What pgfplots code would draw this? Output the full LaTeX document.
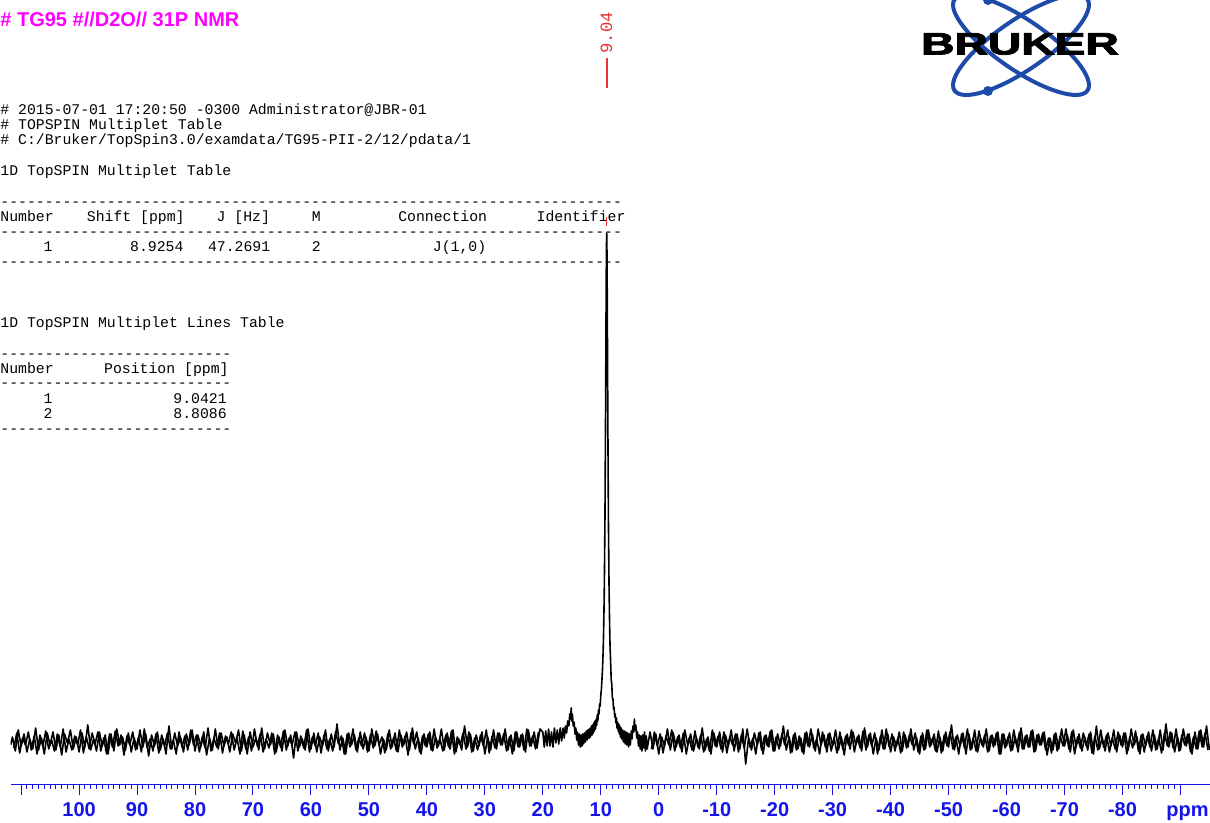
\documentclass[border=0pt]{standalone}
\usepackage{fontspec}
\setmainfont{Liberation Sans}
\newfontfamily\tabfont{Liberation Mono}
\newfontfamily\logofont{Liberation Sans}[BoldFeatures={FakeBold=2.5}]
\usepackage{pgfplots}
\pgfplotsset{compat=1.18}
\definecolor{bblue}{RGB}{30,75,170}
\definecolor{tickblue}{RGB}{20,20,235}
\definecolor{mag}{RGB}{255,0,255}
\definecolor{pkred}{RGB}{235,50,50}
\newcommand\tf{\tabfont\fontsize{7.4}{9}\selectfont}
\newcommand\cell[3]{\node[anchor=base west,inner sep=0pt,font=\tf] at ({#1*8.65},#2) {#3};}
\newcommand\dashline[2]{\node[anchor=base west,inner sep=0pt,font=\tf] at (0,#2) {\foreach\i in {1,...,#1}{-\kern0pt}};}
\begin{document}
\begin{tikzpicture}[x=0.5pt,y=0.5pt]
\path[use as bounding box] (0,0) rectangle (1210,823);
% logo
\begin{scope}[bblue, line width=2pt]
\draw[rotate around={34.4:(1021,778)}] (1021,778) ellipse [x radius=80.6, y radius=25];
\draw[rotate around={-34.4:(1021,778)}] (1021,778) ellipse [x radius=80.6, y radius=25];
\fill (988,732) circle (5);
\fill (988,823) circle (5);
\end{scope}
\node[inner sep=0pt, xscale=1.5, font=\logofont\bfseries\fontsize{15.4}{16}\selectfont] at (1020,779) {BRUKER};
% title
\node[anchor=base west, inner sep=0pt, text=mag, font=\bfseries\fontsize{10}{12}\selectfont] at (0,796) {\# TG95 \#//D2O// 31P NMR};
% header text
\cell{0}{708}{\# 2015-07-01 17:20:50 -0300 Administrator@JBR-01}
\cell{0}{693}{\# TOPSPIN Multiplet Table}
\cell{0}{678}{\# C:/Bruker/TopSpin3.0/examdata/TG95-PII-2/12/pdata/1}
\cell{0}{647}{1D TopSPIN Multiplet Table}
\dashline{70}{616}
\cell{0}{601}{Number}
\cell{10}{601}{Shift [ppm]}
\cell{25}{601}{J [Hz]}
\cell{36}{601}{M}
\cell{46}{601}{Connection}
\cell{62}{601}{Identifier}
\dashline{70}{586}
\cell{5}{571}{1}
\cell{15}{571}{8.9254}
\cell{24}{571}{47.2691}
\cell{36}{571}{2}
\cell{50}{571}{J(1,0)}
\dashline{70}{556}
\cell{0}{495}{1D TopSPIN Multiplet Lines Table}
\dashline{26}{464.5}
\cell{0}{449}{Number}
\cell{12}{449}{Position [ppm]}
\dashline{26}{435}
\cell{5}{419}{1}
\cell{20}{419}{9.0421}
\cell{5}{404}{2}
\cell{20}{404}{8.8086}
\dashline{26}{389.5}
% peak label
\node[rotate=90, text=pkred, inner sep=0pt, font=\tabfont\fontsize{8.6}{10}\selectfont] at (606.5,790) {9.04};
\draw[pkred, line width=0.6pt] (607,765) -- (607,735);
\draw[pkred, line width=0.6pt] (606.5,606) -- (606.5,597);
\begin{axis}[at={(5.35pt,19pt)}, anchor=south west, scale only axis,
  width=599.65pt, height=392.5pt,
  xmin=-95.1, xmax=111.8, x dir=reverse, ymin=-43, ymax=742,
  axis x line*=bottom, axis y line=none,
  x axis line style={tickblue, line width=0.5pt},
  xtick={110,100,...,-90},
  xticklabels={,100,90,80,70,60,50,40,30,20,10,0,-10,-20,-30,-40,-50,-60,-70,-80,},
  minor x tick num=9,
  xtick align=outside,
  major tick length=5pt, minor tick length=1.8pt,
  every tick/.style={tickblue, line width=0.5pt},
  xticklabel style={font=\bfseries\fontsize{10}{12}\selectfont, text=tickblue, anchor=base, yshift=-11pt},
]
\addplot[black, line width=0.8pt, line join=round] coordinates {
(111.8,-3)
(111.5,5) (111,-9) (110.5,12) (110,-4) (109.5,8) (109,-10) (108.5,3) (108,-7) (107.5,14) (107,-8)
(106.5,4) (106,-12) (105.5,9) (105,-3) (104.5,10) (104,-8) (103.5,7) (103,-13) (102.5,8) (102,-1)
(101.5,12) (101,-7) (100.5,5) (100,-10) (99.5,9) (99,-5) (98.5,17) (98,-8) (97.5,3) (97,-9)
(96.5,10) (96,-4) (95.5,7) (95,-12) (94.5,8) (94,-9) (93.5,13) (93,-3) (92.5,5) (92,-8)
(91.5,9) (91,-10) (90.5,4) (90,-7) (89.5,12) (89,-5) (88.5,8) (88,-14) (87.5,7) (87,-4)
(86.5,10) (86,-8) (85.5,3) (85,-12) (84.5,16) (84,-7) (83.5,9) (83,-4) (82.5,5) (82,-10)
(81.5,8) (81,-3) (80.5,12) (80,-9) (79.5,7) (79,-5) (78.5,10) (78,-13) (77.5,4) (77,-8)
(76.5,13) (76,-7) (75.5,9) (75,-4) (74.5,5) (74,-10) (73.5,8) (73,-1) (72.5,12) (72,-9)
(71.5,7) (71,-12) (70.5,10) (70,-5) (69.5,4) (69,-8) (68.5,14) (68,-7) (67.5,9) (67,-3)
(66.5,8) (66,-10) (65.5,5) (65,-9) (64.5,12) (64,-4) (63.5,7) (63,-16) (62.5,10) (62,-5)
(61.5,3) (61,-8) (60.5,13) (60,-7) (59.5,9) (59,-10) (58.5,5) (58,-4) (57.5,12) (57,-9)
(56.5,8) (56,-5) (55.5,18) (55,-8) (54.5,4) (54,-12) (53.5,9) (53,-3) (52.5,7) (52,-10)
(51.5,10) (51,-7) (50.5,5) (50,-9) (49.5,13) (49,-4) (48.5,8) (48,-12) (47.5,3) (47,-8)
(46.5,12) (46,-5) (45.5,9) (45,-10) (44.5,7) (44,-3) (43.5,10) (43,-8) (42.5,14) (42,-7)
(41.5,4) (41,-12) (40.5,8) (40,-5) (39.5,10) (39,-9) (38.5,5) (38,-4) (37.5,13) (37,-8)
(36.5,9) (36,-7) (35.5,12) (35,-10) (34.5,3) (34,-8) (33.5,16) (33,-5) (32.5,8) (32,-9)
(31.5,7) (31,-4) (30.5,10) (30,-12) (29.5,5) (29,-8) (28.5,12) (28,-7) (27.5,9) (27,-3)
(26.5,13) (26,-8) (25.5,7) (25,-9) (24.5,10) (24,-5) (23.5,8) (23,-10) (22.5,12) (22,-4)
(21.5,10) (21,-6) (20.5,13)
(20.0,10) (19.75,-5) (19.5,11) (19.25,-4) (19.0,13) (18.75,-4) (18.5,10) (18.25,-5) (18.0,14) (17.75,-1)
(17.5,12) (17.25,-2) (17.0,14) (16.75,1) (16.5,14) (16.3,4) (16.1,16) (15.9,9) (15.7,21) (15.5,16)
(15.35,28) (15.2,23) (15.1,34) (15.0,21) (14.9,28) (14.75,16) (14.6,20) (14.45,8) (14.3,14) (14.15,2)
(14.0,10) (13.85,-3) (13.7,8) (13.55,-5) (13.4,7) (13.25,-4) (13.1,8) (12.95,-2) (12.8,9) (12.65,0)
(12.5,11) (12.35,2) (12.2,12) (12.1,4)
(12.0,13) (11.9,4) (11.8,14) (11.7,6) (11.6,16) (11.5,7) (11.4,17) (11.3,9) (11.2,19) (11.1,11)
(11.0,21) (10.9,13) (10.8,23) (10.7,17) (10.6,27) (10.5,21) (10.4,32) (10.3,28) (10.2,38) (10.1,36)
(10.0,47) (9.9,52) (9.8,62) (9.7,73) (9.6,89) (9.53,105) (9.45,130) (9.38,159) (9.28,222) (9.18,320)
(9.13,381) (9.08,442) (9.03,490) (8.98,509) (8.93,490) (8.88,442) (8.83,381) (8.78,320) (8.68,222) (8.58,159)
(8.48,119) (8.4,96) (8.3,80) (8.2,62) (8.1,58) (8.0,44) (7.9,43) (7.8,33) (7.7,35) (7.6,25)
(7.5,28) (7.4,19) (7.3,24) (7.2,14) (7.1,20) (7.0,11) (6.9,18) (6.8,8) (6.7,16) (6.6,5)
(6.5,14) (6.4,3) (6.25,12) (6.1,0) (5.95,11) (5.8,-2) (5.65,10) (5.5,-3) (5.35,9) (5.2,-5)
(5.05,8) (4.9,-3) (4.75,11) (4.6,3) (4.45,16) (4.3,10) (4.2,23) (4.1,12) (3.95,17) (3.8,4)
(3.65,10) (3.5,-4) (3.35,7) (3.2,-7) (3.05,6) (2.9,-9) (2.75,7) (2.6,-6) (2.45,10) (2.3,-9)
(2.15,6) (2.0,-7)
(1.5,10) (1,-7) (0.5,8) (0,-12) (-0.5,5) (-1,-4) (-1.5,13) (-2,-8) (-2.5,9) (-3,-5)
(-3.5,7) (-4,-10) (-4.5,12) (-5,-3) (-5.5,8) (-6,-9) (-6.5,4) (-7,-7) (-7.5,14) (-8,-8)
(-8.5,5) (-9,-12) (-9.5,9) (-10,-5) (-10.5,10) (-11,-10) (-11.5,7) (-12,-4) (-12.5,12) (-13,-9)
(-13.5,8) (-14,-7) (-14.5,13) (-15,-22) (-15.5,4) (-16,-8) (-16.5,9) (-17,-3) (-17.5,10) (-18,-12)
(-18.5,7) (-19,-5) (-19.5,12) (-20,-9) (-20.5,8) (-21,-4) (-21.5,16) (-22,-8) (-22.5,5) (-23,-10)
(-23.5,9) (-24,-7) (-24.5,4) (-25,-12) (-25.5,10) (-26,-5) (-26.5,8) (-27,-9) (-27.5,13) (-28,-3)
(-28.5,7) (-29,-10) (-29.5,9) (-30,-4) (-30.5,12) (-31,-8) (-31.5,5) (-32,-13) (-32.5,8) (-33,-7)
(-33.5,10) (-34,-3) (-34.5,7) (-35,-9) (-35.5,14) (-36,-5) (-36.5,9) (-37,-12) (-37.5,4) (-38,-8)
(-38.5,12) (-39,-7) (-39.5,8) (-40,-10) (-40.5,5) (-41,-4) (-41.5,10) (-42,-9) (-42.5,7) (-43,-5)
(-43.5,13) (-44,-8) (-44.5,4) (-45,-12) (-45.5,9) (-46,-7) (-46.5,12) (-47,-3) (-47.5,8) (-48,-10)
(-48.5,5) (-49,-9) (-49.5,10) (-50,-5) (-50.5,17) (-51,-8) (-51.5,7) (-52,-4) (-52.5,9) (-53,-12)
(-53.5,8) (-54,-7) (-54.5,12) (-55,-10) (-55.5,4) (-56,-5) (-56.5,13) (-57,-9) (-57.5,7) (-58,-3)
(-58.5,10) (-59,-12) (-59.5,8) (-60,-4) (-60.5,9) (-61,-8) (-61.5,5) (-62,-10) (-62.5,14) (-63,-7)
(-63.5,7) (-64,-5) (-64.5,12) (-65,-9) (-65.5,8) (-66,-3) (-66.5,10) (-67,-13) (-67.5,4) (-68,-8)
(-68.5,9) (-69,-7) (-69.5,13) (-70,-4) (-70.5,7) (-71,-10) (-71.5,12) (-72,-5) (-72.5,8) (-73,-9)
(-73.5,5) (-74,-8) (-74.5,10) (-75,-12) (-75.5,16) (-76,-7) (-76.5,4) (-77,-9) (-77.5,9) (-78,-4)
(-78.5,12) (-79,-10) (-79.5,7) (-80,-5) (-80.5,9) (-81,-8) (-81.5,13) (-82,-3) (-82.5,5) (-83,-12)
(-83.5,8) (-84,-4) (-84.5,10) (-85,-9) (-85.5,7) (-86,-7) (-86.5,12) (-87,-8) (-87.5,18) (-88,-5)
(-88.5,9) (-89,-10) (-89.5,5) (-90,-8) (-90.5,13) (-91,-4) (-91.5,8) (-92,-12) (-92.5,10) (-93,-7)
(-93.5,12) (-94,-5) (-94.5,16) (-95,-8)
};
\addplot[black, line width=0.8pt, line join=round] coordinates {
(111.25,-6) (110.75,9) (110.25,-11) (109.75,4) (109.25,-3) (108.75,10) (108.25,-8) (107.75,6) (107.25,-12) (106.75,7)
(106.25,-4) (105.75,11) (105.25,-7) (104.75,2) (104.25,-9) (103.75,8) (103.25,-5) (102.75,13) (102.25,-10) (101.75,3)
(101.25,-8) (100.75,6) (100.25,-3) (99.75,12) (99.25,-11) (98.75,5) (98.25,-7) (97.75,9) (97.25,-2) (96.75,10)
(96.25,-9) (95.75,4) (95.25,-12) (94.75,8) (94.25,-5) (93.75,11) (93.25,-4) (92.75,7) (92.25,-13) (91.75,6)
(91.25,-3) (90.75,10) (90.25,-8) (89.75,5) (89.25,-10) (88.75,13) (88.25,-6) (87.75,3) (87.25,-9) (86.75,8)
(86.25,-11) (85.75,7) (85.25,-4) (84.75,9) (84.25,-7) (83.75,2) (83.25,-12) (82.75,10) (82.25,-5) (81.75,6)
(81.25,-8) (80.75,12) (80.25,-3) (79.75,7) (79.25,-10) (78.75,5) (78.25,-6) (77.75,14) (77.25,-9) (76.75,4)
(76.25,-5) (75.75,9) (75.25,-11) (74.75,6) (74.25,-2) (73.75,10) (73.25,-8) (72.75,4) (72.25,-12) (71.75,11)
(71.25,-7) (70.75,5) (70.25,-9) (69.75,13) (69.25,-4) (68.75,8) (68.25,-10) (67.75,3) (67.25,-6) (66.75,9)
(66.25,-12) (65.75,7) (65.25,-5) (64.75,11) (64.25,-8) (63.75,4) (63.25,-3) (62.75,10) (62.25,-9) (61.75,6)
(61.25,-6) (60.75,12) (60.25,-10) (59.75,5) (59.25,-4) (58.75,9) (58.25,-11) (57.75,7) (57.25,-7) (56.75,3)
(56.25,-9) (55.75,10) (55.25,-2) (54.75,6) (54.25,-12) (53.75,8) (53.25,-5) (52.75,13) (52.25,-8) (51.75,4)
(51.25,-4) (50.75,9) (50.25,-10) (49.75,7) (49.25,-6) (48.75,11) (48.25,-3) (47.75,5) (47.25,-11) (46.75,8)
(46.25,-7) (45.75,4) (45.25,-9) (44.75,12) (44.25,-5) (43.75,6) (43.25,-13) (42.75,9) (42.25,-2) (41.75,10)
(41.25,-10) (40.75,6) (40.25,-4) (39.75,8) (39.25,-8) (38.75,13) (38.25,-6) (37.75,3) (37.25,-9) (36.75,7)
(36.25,-5) (35.75,11) (35.25,-12) (34.75,5) (34.25,-3) (33.75,9) (33.25,-7) (32.75,10) (32.25,-10) (31.75,4)
(31.25,-8) (30.75,7) (30.25,-4) (29.75,12) (29.25,-11) (28.75,6) (28.25,-6) (27.75,9) (27.25,-3) (26.75,8)
(26.25,-9) (25.75,5) (25.25,-12) (24.75,10) (24.25,-5) (23.75,7) (23.25,-8) (22.75,13) (22.25,-4) (21.75,6)
(21.25,-7) (20.75,10)
};
\addplot[black, line width=0.8pt, line join=round] coordinates {
(1.25,-7) (0.75,10) (0.25,-4) (-0.25,8) (-0.75,-11) (-1.25,6) (-1.75,-3) (-2.25,12) (-2.75,-9) (-3.25,5)
(-3.75,-6) (-4.25,9) (-4.75,-12) (-5.25,4) (-5.75,-8) (-6.25,11) (-6.75,-5) (-7.25,7) (-7.75,-10) (-8.25,3)
(-8.75,-9) (-9.25,12) (-9.75,-4) (-10.25,6) (-10.75,-7) (-11.25,10) (-11.75,-11) (-12.25,5) (-12.75,-3) (-13.25,8)
(-13.75,-10) (-14.25,7) (-14.75,-6) (-15.25,13) (-15.75,-5) (-16.25,4) (-16.75,-12) (-17.25,9) (-17.75,-8) (-18.25,6)
(-18.75,-4) (-19.25,11) (-19.75,-9) (-20.25,5) (-20.75,-7) (-21.25,8) (-21.75,-3) (-22.25,12) (-22.75,-11) (-23.25,7)
(-23.75,-8) (-24.25,6) (-24.75,-10) (-25.25,9) (-25.75,-4) (-26.25,13) (-26.75,-6) (-27.25,3) (-27.75,-12) (-28.25,10)
(-28.75,-5) (-29.25,8) (-29.75,-9) (-30.25,4) (-30.75,-11) (-31.25,10) (-31.75,-7) (-32.25,6) (-32.75,-3) (-33.25,12)
(-33.75,-10) (-34.25,5) (-34.75,-6) (-35.25,11) (-35.75,-8) (-36.25,7) (-36.75,-4) (-37.25,9) (-37.75,-12) (-38.25,6)
(-38.75,-7) (-39.25,13) (-39.75,-5) (-40.25,8) (-40.75,-9) (-41.25,4) (-41.75,-11) (-42.25,10) (-42.75,-6) (-43.25,7)
(-43.75,-3) (-44.25,9) (-44.75,-10) (-45.25,6) (-45.75,-8) (-46.25,12) (-46.75,-5) (-47.25,4) (-47.75,-9) (-48.25,11)
(-48.75,-11) (-49.25,7) (-49.75,-4) (-50.25,10) (-50.75,-7) (-51.25,5) (-51.75,-12) (-52.25,8) (-52.75,-6) (-53.25,13)
(-53.75,-8) (-54.25,4) (-54.75,-9) (-55.25,11) (-55.75,-3) (-56.25,7) (-56.75,-10) (-57.25,6) (-57.75,-5) (-58.25,9)
(-58.75,-12) (-59.25,8) (-59.75,-6) (-60.25,5) (-60.75,-9) (-61.25,12) (-61.75,-4) (-62.25,10) (-62.75,-7) (-63.25,6)
(-63.75,-5) (-64.25,11) (-64.75,-10) (-65.25,7) (-65.75,-3) (-66.25,9) (-66.75,-8) (-67.25,4) (-67.75,-11) (-68.25,8)
(-68.75,-9) (-69.25,6) (-69.75,-4) (-70.25,13) (-70.75,-7) (-71.25,10) (-71.75,-12) (-72.25,5) (-72.75,-6) (-73.25,9)
(-73.75,-4) (-74.25,8) (-74.75,-11) (-75.25,6) (-75.75,-8) (-76.25,12) (-76.75,-5) (-77.25,7) (-77.75,-10) (-78.25,4)
(-78.75,-7) (-79.25,10) (-79.75,-3) (-80.25,9) (-80.75,-12) (-81.25,5) (-81.75,-6) (-82.25,11) (-82.75,-9) (-83.25,7)
(-83.75,-10) (-84.25,6) (-84.75,-5) (-85.25,12) (-85.75,-8) (-86.25,4) (-86.75,-11) (-87.25,9) (-87.75,-4) (-88.25,10)
(-88.75,-6) (-89.25,13) (-89.75,-9) (-90.25,7) (-90.75,-3) (-91.25,8) (-91.75,-10) (-92.25,5) (-92.75,-7) (-93.25,11)
(-93.75,-5) (-94.25,9) (-94.75,-8)
};
\end{axis}
\node[anchor=base east, inner sep=0pt, text=tickblue, font=\bfseries\fontsize{10}{12}\selectfont] at (1209,6) {ppm};
\end{tikzpicture}
\end{document}
